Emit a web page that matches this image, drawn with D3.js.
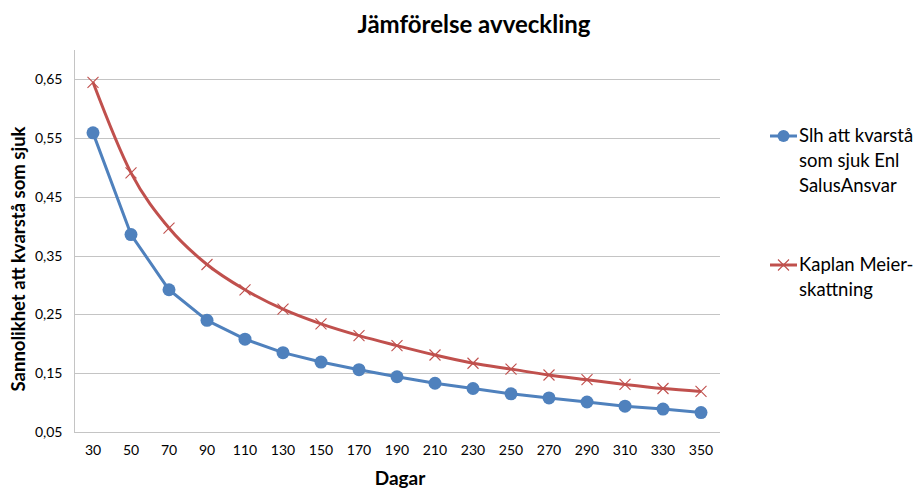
<!DOCTYPE html>
<html>
<head>
<meta charset="utf-8">
<script src="https://cdn.jsdelivr.net/npm/d3@7"></script>
<style>
  html, body { margin: 0; padding: 0; background: #fff; }
  svg { display: block; font-family: Lato, "Open Sans", sans-serif; }
</style>
</head>
<body>
<svg id="chart" width="920" height="488"></svg>
<script>
// Days since sick-listing (category axis)
const dagar = [30, 50, 70, 90, 110, 130, 150, 170, 190, 210, 230, 250, 270, 290, 310, 330, 350];
// Probability of remaining sick according to SalusAnsvar
const salusAnsvar = [0.559, 0.386, 0.292, 0.240, 0.208, 0.185, 0.169, 0.156, 0.144, 0.133, 0.124, 0.115, 0.108, 0.101, 0.094, 0.089, 0.083];
// Kaplan-Meier estimate
const kaplanMeier = [0.645, 0.491, 0.397, 0.335, 0.292, 0.259, 0.234, 0.214, 0.197, 0.181, 0.167, 0.157, 0.147, 0.139, 0.131, 0.124, 0.119];
// Value-axis tick labels
const yTicks = [0.05, 0.15, 0.25, 0.35, 0.45, 0.55, 0.65];
const seriesNames = [["Slh att kvarstå", "som sjuk Enl", "SalusAnsvar"], ["Kaplan Meier-", "skattning"]];

const blue = "#4F81BD", red = "#C0504D", grid = "#c4c4c4";
const svg = d3.select("#chart");
const plot = { left: 74, right: 720, top: 50, bottom: 432 };

const x = d3.scaleBand().domain(dagar).range([plot.left, plot.right]);
const y = d3.scaleLinear().domain([0.05, 0.70]).range([plot.bottom, plot.top]);
const cx = d => x(d) + x.bandwidth() / 2;

// Title
svg.append("text")
  .attr("x", 474).attr("y", 33)
  .attr("text-anchor", "middle")
  .attr("font-size", 24).attr("font-weight", 700).attr("fill", "#000")
  .text("Jämförelse avveckling");

// Horizontal gridlines
svg.append("g").selectAll("line").data(yTicks).join("line")
  .attr("x1", plot.left).attr("x2", plot.right)
  .attr("y1", d => Math.round(y(d)) + 0.5).attr("y2", d => Math.round(y(d)) + 0.5)
  .attr("stroke", grid).attr("stroke-width", 1);

// Y axis
const yAxis = d3.axisLeft(y).tickValues(yTicks).tickSize(0).tickPadding(12)
  .tickFormat(d => d3.format(".2f")(d).replace(".", ","));
const gy = svg.append("g").attr("transform", `translate(${plot.left + 0.5},0)`).call(yAxis);
gy.select(".domain").attr("stroke", grid).attr("d", `M0,${plot.top}V${plot.bottom}`);
gy.selectAll("text").attr("font-size", 14).attr("fill", "#000").attr("font-family", "Lato, sans-serif");

// X axis
const xAxis = d3.axisBottom(x).tickSize(0).tickPadding(13);
const gx = svg.append("g").attr("transform", `translate(0,${plot.bottom + 0.5})`).call(xAxis);
gx.select(".domain").attr("stroke", grid).attr("d", `M${plot.left},0H${plot.right}`);
gx.selectAll("text").attr("font-size", 14).attr("fill", "#000").attr("font-family", "Lato, sans-serif");

// Axis titles
svg.append("text")
  .attr("transform", "translate(25,259) rotate(-90)")
  .attr("text-anchor", "middle")
  .attr("font-size", 18.5).attr("font-weight", 700).attr("fill", "#000")
  .text("Sannolikhet att kvarstå som sjuk");
svg.append("text")
  .attr("x", 400).attr("y", 485)
  .attr("text-anchor", "middle")
  .attr("font-size", 19).attr("font-weight", 700).attr("fill", "#000")
  .text("Dagar");

// Series: SalusAnsvar (straight segments, round markers)
const lineStraight = d3.line().x((d, i) => cx(dagar[i])).y(d => y(d));
svg.append("path").datum(salusAnsvar)
  .attr("d", lineStraight)
  .attr("fill", "none").attr("stroke", blue).attr("stroke-width", 3).attr("stroke-linejoin", "round");
svg.append("g").selectAll("circle").data(salusAnsvar).join("circle")
  .attr("cx", (d, i) => cx(dagar[i])).attr("cy", d => y(d))
  .attr("r", 6.5).attr("fill", blue);

// Series: Kaplan-Meier (smoothed line, cross markers)
const lineSmooth = d3.line().curve(d3.curveCatmullRom.alpha(0))
  .x((d, i) => cx(dagar[i])).y(d => y(d));
svg.append("path").datum(kaplanMeier)
  .attr("d", lineSmooth)
  .attr("fill", "none").attr("stroke", red).attr("stroke-width", 3);
const cross = "M-5.5,-5.5L5.5,5.5M-5.5,5.5L5.5,-5.5";
svg.append("g").selectAll("path").data(kaplanMeier).join("path")
  .attr("transform", (d, i) => `translate(${cx(dagar[i])},${y(d)})`)
  .attr("d", cross).attr("stroke", red).attr("stroke-width", 1.1).attr("fill", "none");

// Legend
const legend = svg.append("g");
const legendY = [136, 265];
// SalusAnsvar entry
legend.append("line").attr("x1", 770).attr("x2", 797).attr("y1", legendY[0]).attr("y2", legendY[0])
  .attr("stroke", blue).attr("stroke-width", 3);
legend.append("circle").attr("cx", 783.5).attr("cy", legendY[0]).attr("r", 6).attr("fill", blue);
// Kaplan-Meier entry
legend.append("line").attr("x1", 770).attr("x2", 797).attr("y1", legendY[1]).attr("y2", legendY[1])
  .attr("stroke", red).attr("stroke-width", 3);
legend.append("path").attr("transform", `translate(783.5,${legendY[1]})`)
  .attr("d", cross).attr("stroke", red).attr("stroke-width", 1.1);

seriesNames.forEach((lines, s) => {
  const t = legend.append("text").attr("x", 799).attr("y", legendY[s] + 6)
    .attr("font-size", 18.5).attr("fill", "#000");
  lines.forEach((ln, i) => t.append("tspan").attr("x", 799).attr("dy", i === 0 ? 0 : 25).text(ln));
});
</script>
</body>
</html>
